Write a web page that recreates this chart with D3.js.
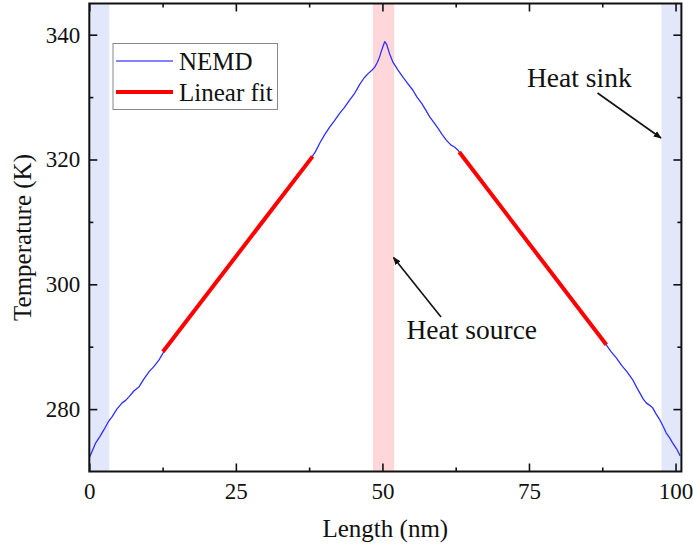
<!DOCTYPE html>
<html>
<head>
<meta charset="utf-8">
<script src="https://cdn.jsdelivr.net/npm/d3@7"></script>
<style>
  html, body { margin: 0; padding: 0; background: #fff; }
  svg { display: block; }
  text { font-family: "Liberation Serif", "Times New Roman", serif; fill: #111; }
</style>
</head>
<body>
<svg id="chart" width="693" height="552"></svg>
<script>
// NEMD temperature profile along the sample (length in nm, temperature in K)
const lengthNm = [
  0, 0.5, 1.1, 1.8, 2.5, 3.2, 3.9, 4.7, 5.6, 6.2, 6.8, 7.6, 8.5, 9.3, 10.2, 11.0, 11.9, 12.6, 13.6,
  14.5, 15.4, 16.3, 17.2, 18.1, 19.0, 19.9, 20.8, 21.7, 22.6, 23.5, 24.4, 25.3, 26.2, 27.1, 28.0,
  28.9, 29.8, 30.7, 31.6, 32.5, 33.4, 34.3, 35.2, 36.1, 37.0, 37.9, 38.6, 39.3, 40.1, 41.0, 41.8,
  42.7, 43.5, 44.4, 45.2, 46.1, 46.9, 47.6, 48.2, 48.7, 49.1, 49.5, 49.9, 50.4, 50.7, 51.2, 51.8,
  52.6, 53.5, 54.3, 55.2, 55.9, 56.7, 57.4, 58.1, 58.8, 59.5, 60.2, 60.9, 61.7, 62.3, 62.9, 63.8,
  64.7, 65.6, 66.5, 67.4, 68.3, 69.2, 70.1, 71.0, 71.9, 72.8, 73.7, 74.6, 75.5, 76.4, 77.3, 78.2,
  79.1, 80.0, 80.9, 81.8, 82.7, 83.6, 84.5, 85.4, 86.3, 87.2, 88.1, 89.0, 89.9, 90.8, 91.7, 92.7,
  93.3, 93.9, 94.5, 95.0, 95.6, 96.1, 96.7, 97.3, 97.9, 98.4, 99.0, 99.5, 100.2, 100.8
];
const tempK = [
  272.2, 273.3, 274.6, 275.6, 276.7, 277.9, 278.8, 280.0, 281.0, 281.4, 282.0, 282.9, 283.6, 284.8, 286.0, 286.8, 287.9, 289.0, 290.2,
  291.6, 292.6, 293.8, 294.8, 296.0, 297.3, 298.1, 299.3, 300.4, 301.5, 302.6, 303.9, 304.8, 305.9, 307.0, 308.2,
  309.2, 310.3, 311.5, 312.5, 313.7, 314.9, 315.8, 317.0, 318.1, 319.1, 320.3, 321.3, 322.6, 323.9, 325.2, 326.2,
  327.4, 328.3, 329.5, 330.5, 332.0, 333.1, 333.8, 334.3, 334.8, 335.5, 336.4, 337.6, 338.9, 338.5, 337.0, 335.6,
  334.4, 333.2, 332.2, 331.1, 330.0, 329.0, 327.9, 326.8, 325.9, 325.0, 324.0, 323.1, 322.3, 322.0, 321.5, 320.3,
  319.2, 318.1, 317.0, 315.9, 314.9, 313.7, 312.6, 311.5, 310.4, 309.2, 308.1, 307.0, 305.9, 304.5, 303.7, 302.6,
  301.5, 300.4, 299.3, 298.2, 297.1, 296.0, 294.8, 293.7, 292.6, 291.5, 290.4, 289.2, 288.2, 287.0, 286.0, 284.7,
  283.6, 282.6, 281.6, 281.0, 280.6, 280.2, 279.2, 278.3, 277.2, 276.2, 275.4, 274.6, 273.6, 272.5
];

// Linear fits of the two gradient regions (segment end points)
const fitLeftX = [12.56, 38.1];
const fitLeftT = [289.2, 320.5];
const fitRightX = [63.1, 88.2];
const fitRightT = [321.2, 290.3];

// Thermostat regions: [start, end] in nm
const sinkLeft = [0, 3.4];
const sinkRight = [97.6, 101];
const sourceRegion = [48.4, 52.0];

// Axis ticks
const xMajorTicks = [0, 25, 50, 75, 100];
const xMinorTicks = [12.5, 37.5, 62.5, 87.5];
const yMajorTicks = [280, 300, 320, 340];
const yMinorTicks = [290, 310, 330];

const legendLabels = ["NEMD", "Linear fit"];

const serif = "'Liberation Serif', 'Times New Roman', serif";
const svg = d3.select("#chart").attr("font-family", serif);
const plotL = 89.3, plotR = 681.4, plotT = 3.5, plotB = 471.5;

const x = d3.scaleLinear().domain([0, 101]).range([plotL, plotR]);
const y = d3.scaleLinear().domain([270, 345]).range([plotB, plotT]);

const defs = svg.append("defs");
defs.append("clipPath").attr("id", "plotClip")
  .append("rect").attr("x", plotL).attr("y", plotT)
  .attr("width", plotR - plotL).attr("height", plotB - plotT);
defs.append("marker").attr("id", "arrow")
  .attr("viewBox", "0 0 10 10").attr("refX", 9).attr("refY", 5)
  .attr("markerWidth", 8).attr("markerHeight", 8)
  .attr("markerUnits", "userSpaceOnUse")
  .attr("orient", "auto")
  .append("path").attr("d", "M0,1 L10,5 L0,9 Z").attr("fill", "#111");

// Shaded regions
const bands = [
  { r: sinkLeft, c: "#e2e7fa" },
  { r: sinkRight, c: "#e2e7fa" },
  { r: sourceRegion, c: "#ffd6d9" }
];
svg.append("g").selectAll("rect").data(bands).join("rect")
  .attr("x", d => x(d.r[0]))
  .attr("width", d => x(d.r[1]) - x(d.r[0]))
  .attr("y", plotT).attr("height", plotB - plotT)
  .attr("fill", d => d.c);

const plot = svg.append("g").attr("clip-path", "url(#plotClip)");

// NEMD profile
const line = d3.line().x(d => x(d[0])).y(d => y(d[1]));
plot.append("path")
  .datum(d3.zip(lengthNm, tempK))
  .attr("d", line)
  .attr("fill", "none")
  .attr("stroke", "#2f2fff")
  .attr("stroke-width", 1.3)
  .attr("stroke-linejoin", "round");

// Linear fits
[[fitLeftX, fitLeftT], [fitRightX, fitRightT]].forEach(([fx, ft]) => {
  plot.append("path")
    .datum(d3.zip(fx, ft))
    .attr("d", line)
    .attr("fill", "none")
    .attr("stroke", "#ff0000")
    .attr("stroke-width", 4);
});

// Axes: ticks point inward on all four sides
function styleAxis(g) {
  g.attr("font-family", serif).attr("font-size", 23);
  g.select(".domain").remove();
  g.selectAll(".tick line").attr("stroke", "#111").attr("stroke-width", 1.6);
  g.selectAll(".tick text").attr("fill", "#111");
}
function noLabels(g) { g.selectAll(".tick text").remove(); }

svg.append("g").attr("transform", `translate(0,${plotB})`)
  .call(d3.axisBottom(x).tickValues(xMajorTicks).tickSize(-8).tickPadding(11).tickFormat(d3.format("d")))
  .call(styleAxis);
svg.append("g").attr("transform", `translate(0,${plotB})`)
  .call(d3.axisBottom(x).tickValues(xMinorTicks).tickSize(-4)).call(styleAxis).call(noLabels);
svg.append("g").attr("transform", `translate(0,${plotT})`)
  .call(d3.axisTop(x).tickValues(xMajorTicks).tickSize(-8)).call(styleAxis).call(noLabels);
svg.append("g").attr("transform", `translate(0,${plotT})`)
  .call(d3.axisTop(x).tickValues(xMinorTicks).tickSize(-4)).call(styleAxis).call(noLabels);

svg.append("g").attr("transform", `translate(${plotL},0)`)
  .call(d3.axisLeft(y).tickValues(yMajorTicks).tickSize(-8).tickPadding(9).tickFormat(d3.format("d")))
  .call(styleAxis);
svg.append("g").attr("transform", `translate(${plotL},0)`)
  .call(d3.axisLeft(y).tickValues(yMinorTicks).tickSize(-4)).call(styleAxis).call(noLabels);
svg.append("g").attr("transform", `translate(${plotR},0)`)
  .call(d3.axisRight(y).tickValues(yMajorTicks).tickSize(-8)).call(styleAxis).call(noLabels);
svg.append("g").attr("transform", `translate(${plotR},0)`)
  .call(d3.axisRight(y).tickValues(yMinorTicks).tickSize(-4)).call(styleAxis).call(noLabels);

// Frame
svg.append("rect")
  .attr("x", plotL).attr("y", plotT)
  .attr("width", plotR - plotL).attr("height", plotB - plotT)
  .attr("fill", "none").attr("stroke", "#111").attr("stroke-width", 2);

// Axis titles
svg.append("text")
  .attr("x", (plotL + plotR) / 2).attr("y", 537)
  .attr("text-anchor", "middle").style("font-size", "25px")
  .text("Length (nm)");
svg.append("text")
  .attr("transform", `translate(31,${(plotT + plotB) / 2}) rotate(-90)`)
  .attr("text-anchor", "middle").style("font-size", "25px")
  .text("Temperature (K)");

// Legend
const lg = svg.append("g");
lg.append("rect").attr("x", 113).attr("y", 43.5).attr("width", 164.5).attr("height", 66)
  .attr("fill", "#fff").attr("stroke", "#888").attr("stroke-width", 1);
const legendStyles = [
  { c: "#5a5aff", w: 1.6 },
  { c: "#ff0000", w: 4 }
];
legendLabels.forEach((lab, i) => {
  const ly = 61 + i * 31;
  lg.append("line").attr("x1", 116).attr("x2", 173).attr("y1", ly).attr("y2", ly)
    .attr("stroke", legendStyles[i].c).attr("stroke-width", legendStyles[i].w);
  lg.append("text").attr("x", 179).attr("y", ly + 9).style("font-size", "25px").text(lab);
});

// Annotations
svg.append("text").attr("x", 527).attr("y", 87).style("font-size", "27.5px").text("Heat sink");
svg.append("line").attr("x1", 597.5).attr("y1", 93).attr("x2", 661).attr("y2", 138)
  .attr("stroke", "#111").attr("stroke-width", 1.6).attr("marker-end", "url(#arrow)");

svg.append("text").attr("x", 406.5).attr("y", 339).style("font-size", "27.5px").text("Heat source");
svg.append("line").attr("x1", 441).attr("y1", 317).attr("x2", 393.5).attr("y2", 257.5)
  .attr("stroke", "#111").attr("stroke-width", 1.6).attr("marker-end", "url(#arrow)");
</script>
</body>
</html>
